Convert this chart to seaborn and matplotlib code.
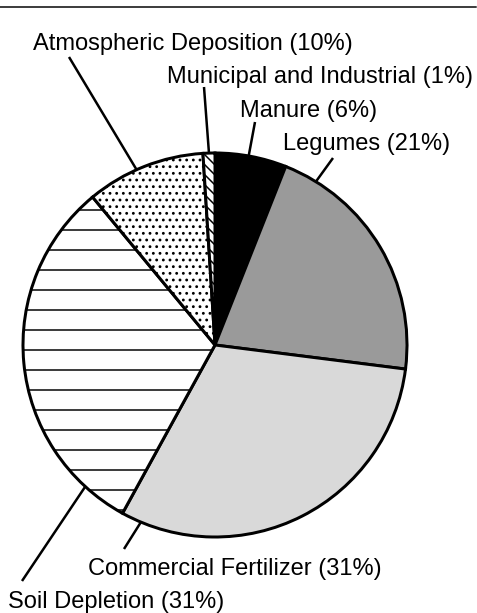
import matplotlib
matplotlib.use("Agg")
import matplotlib.pyplot as plt
import numpy as np
import seaborn as sns

# Sources of nitrogen, clockwise from 12 o'clock
sources = ["Manure", "Legumes", "Commercial Fertilizer", "Soil Depletion",
           "Atmospheric Deposition", "Municipal and Industrial"]
shares = [6, 21, 31, 31, 10, 1]

# Fill style for each slice
fills = ["black", "#9a9a9a", "#d9d9d9", "white", "white", "white"]
hatches = [None, None, None, "-", "...", "\\\\\\\\"]

# Label layout in pixels: text left/baseline, leader outer end, rim angle (deg)
label_xy = [(240, 117), (283, 150), (88, 575), (8, 608), (33, 50), (167, 83)]
leader_xy = [(255, 122), (333, 158), (124, 549), (22, 581), (69, 57), (204, 87)]
rim_angle = [79.9, 58.3, -112.7, -132.5, 114.1, 91.8]

sns.set_theme(style="white")
plt.rcParams["font.family"] = ["Liberation Sans", "DejaVu Sans"]
plt.rcParams["hatch.linewidth"] = 0.9

W, H, DPI = 477, 613, 120
cx, cy, R = 215, 345, 192


def to_data(px, py):
    return (px - cx) / R, (cy - py) / R


fig = plt.figure(figsize=(W / DPI, H / DPI), dpi=DPI)
ax = fig.add_axes([0, 0, 1, 1])

wedges, _ = ax.pie(shares, startangle=90, counterclock=False, colors=fills,
                   radius=1, center=(0, 0),
                   wedgeprops=dict(edgecolor="black", linewidth=1.8))
for w, h in zip(wedges, hatches):
    if h:
        w.set_hatch(h)

for name, pct, lxy, exy, ang in zip(sources, shares, label_xy, leader_xy, rim_angle):
    tx, ty = to_data(*lxy)
    ax.text(tx, ty, f"{name} ({pct}%)", ha="left", va="baseline",
            fontsize=14.2, color="black")
    ex, ey = to_data(*exy)
    rx, ry = np.cos(np.radians(ang)), np.sin(np.radians(ang))
    ax.plot([ex, rx], [ey, ry], color="black", lw=1.5, solid_capstyle="butt")

ax.set_xlim(-cx / R, (W - cx) / R)
ax.set_ylim(-(H - cy) / R, cy / R)
ax.set_aspect("auto")
ax.axis("off")

# rule across the top
fig.add_artist(plt.Line2D([0, 476 / W], [1 - 7 / H, 1 - 7 / H],
                          color="#404040", lw=1.2))

fig.savefig("out.png", dpi=DPI)
